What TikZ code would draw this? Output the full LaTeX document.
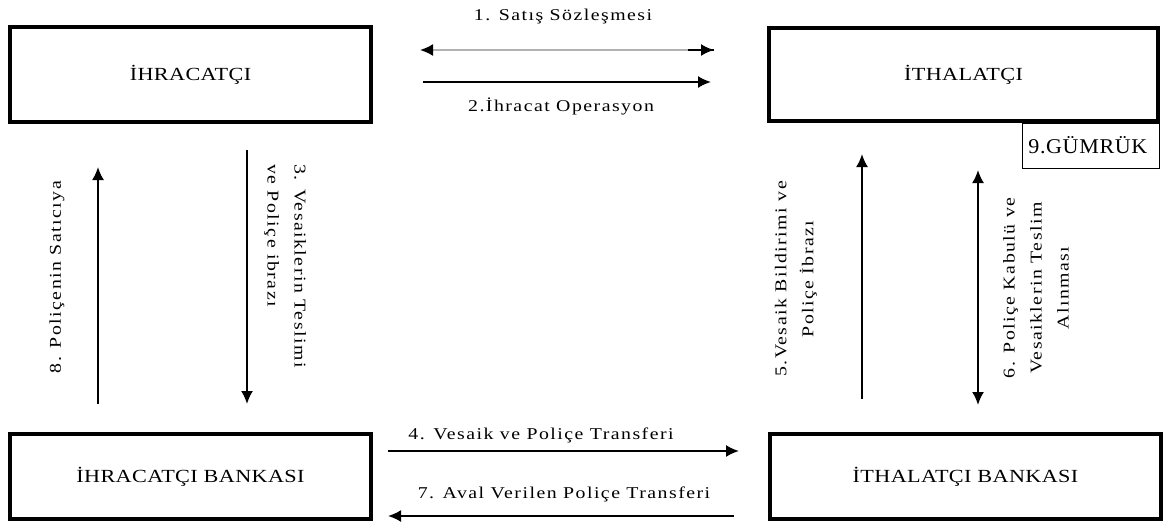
\documentclass[tikz,border=0pt]{standalone}
\usepackage{fontspec}
\setmainfont{Liberation Serif}
\newfontfamily\boxfont[FakeStretch=1.2,LetterSpace=2]{Liberation Serif}
\newfontfamily\tagfont[FakeStretch=1.05,LetterSpace=3]{Liberation Serif}
\newfontfamily\lblfont[FakeStretch=1.2,LetterSpace=9]{Liberation Serif}
\usetikzlibrary{arrows.meta}
\tikzset{
  party/.style={draw, line width=4pt, inner sep=0pt,
    font=\boxfont\fontsize{18.5}{22}\selectfont},
  custom/.style={draw, line width=1.2pt, inner sep=0pt,
    font=\tagfont\fontsize{21}{24}\selectfont},
  lbl/.style={inner sep=0pt, align=center,
    font=\lblfont\fontsize{16.5}{27}\selectfont},
  flow/.style={line width=2pt, -{Latex[length=13pt,width=12pt]}},
  twoway/.style={line width=2pt, {Latex[length=13pt,width=12pt]}-{Latex[length=13pt,width=12pt]}},
}
\begin{document}
\begin{tikzpicture}[x=1pt,y=-1pt]
\useasboundingbox (0,0) rectangle (1171,527);

% parties
\node[party, minimum width=361pt, minimum height=94pt] (ihr) at (190.5,74.5) {İHRACATÇI};
\node[party, minimum width=389pt, minimum height=92pt] (ith) at (963.5,74.5) {İTHALATÇI};
\node[custom, minimum width=137pt, minimum height=45pt, anchor=north east,
      text width=125pt, align=left] (gum) at (ith.south east) {9.GÜMRÜK};
\node[party, minimum width=361pt, minimum height=85pt] (ihb) at (190.5,476.5) {İHRACATÇI BANKASI};
\node[party, minimum width=391pt, minimum height=85pt] (ithb) at (965.5,476.5) {İTHALATÇI BANKASI};

% arrow end points
\coordinate (a1l) at (420,50);  \coordinate (a1r) at (714,50); \coordinate (a1m) at (688,50);
\coordinate (a2l) at (423,82);  \coordinate (a2r) at (711,82);
\coordinate (a3t) at (247,150); \coordinate (a3b) at (247,404);
\coordinate (a8b) at (98,404);  \coordinate (a8t) at (98,167);
\coordinate (a5b) at (862,399); \coordinate (a5t) at (862,154);
\coordinate (a6t) at (978,170); \coordinate (a6b) at (978,405);
\coordinate (a4l) at (388,451); \coordinate (a4r) at (739,451);
\coordinate (a7r) at (734,516); \coordinate (a7l) at (388,516);

% exporter <-> importer
\draw[line width=2pt, black!30,
      {Latex[black,length=13pt,width=12pt]}-{Latex[black,length=13pt,width=12pt]}] (a1l) -- (a1r);
\draw[line width=2pt, black] (a1m) -- (a1r);
\draw[flow] (a2l) -- (a2r);
\node[lbl] (l1) at (563,17) {1. Satış Sözleşmesi};
\node[lbl] (l2) at (561,106) {2.İhracat Operasyon};

% exporter side
\draw[flow] (a3t) -- (a3b);
\draw[flow] (a8b) -- (a8t);
\node[lbl, rotate=90] (l8) at (57,277) {8. Poliçenin Satıcıya};
\node[lbl, rotate=-90, align=left] (l3) at (285,266) {3. Vesaiklerin Teslimi\\ve Poliçe ibrazı};

% importer side
\draw[flow] (a5b) -- (a5t);
\draw[twoway] (a6t) -- (a6b);
\node[lbl, rotate=90] (l5) at (796,279) {5.Vesaik Bildirimi ve\\Poliçe İbrazı};
\node[lbl, rotate=90] (l6) at (1036,288) {6. Poliçe Kabulü ve\\Vesaiklerin Teslim\\Alınması};

% bank to bank
\draw[flow] (a4l) -- (a4r);
\draw[flow] (a7r) -- (a7l);
\node[lbl] (l4) at (541,435) {4. Vesaik ve Poliçe Transferi};
\node[lbl] (l7) at (564,494) {7. Aval Verilen Poliçe Transferi};
\end{tikzpicture}
\end{document}
